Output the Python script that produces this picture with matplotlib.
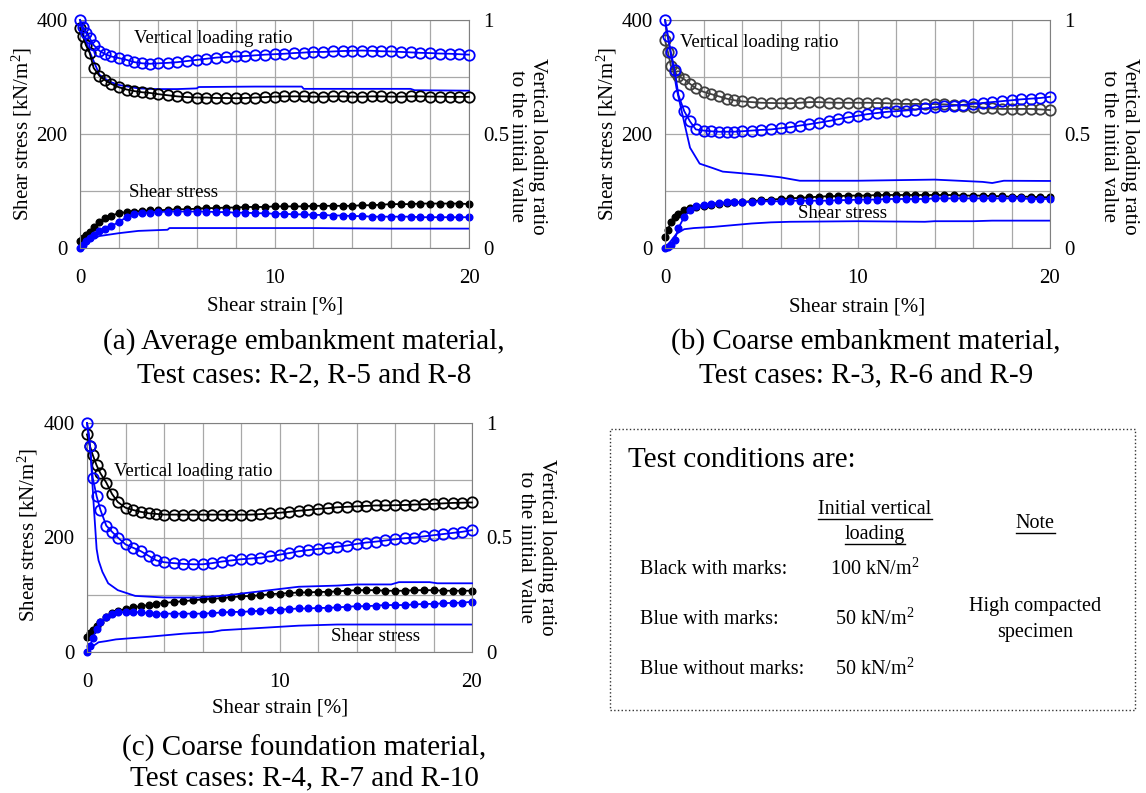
import matplotlib
matplotlib.use("Agg")
import matplotlib.pyplot as plt
from matplotlib.ticker import MultipleLocator
from matplotlib.patches import Rectangle
from matplotlib.lines import Line2D

plt.rcParams['font.family'] = ['Liberation Serif', 'DejaVu Serif']
plt.rcParams['mathtext.fontset'] = 'custom'
plt.rcParams['mathtext.rm'] = 'Liberation Serif'
plt.rcParams['mathtext.it'] = 'Liberation Serif:italic'

W, H = 1146, 793
BLUE = '#0000ff'

# shear strain [%] at the marked points (same for all panels)
strain_m = [0, 0.15, 0.3, 0.5, 0.7, 1.0, 1.3, 1.6, 2.0, 2.4,
            2.8, 3.2, 3.6, 4.0, 4.5, 5.0, 5.5, 6.0, 6.5, 7.0,
            7.5, 8.0, 8.5, 9.0, 9.5, 10.0, 10.5, 11.0, 11.5, 12.0,
            12.5, 13.0, 13.5, 14.0, 14.5, 15.0, 15.5, 16.0, 16.5, 17.0,
            17.5, 18.0, 18.5, 19.0, 19.5, 20.0]

# ---- (a) average embankment material ----
a_ratio_100 = [0.965, 0.93, 0.89, 0.855, 0.79, 0.755, 0.735, 0.72, 0.705, 0.695,
               0.688, 0.683, 0.68, 0.675, 0.67, 0.665, 0.662, 0.66, 0.66, 0.658,
               0.658, 0.657, 0.658, 0.66, 0.662, 0.664, 0.665, 0.665, 0.665, 0.664,
               0.664, 0.665, 0.665, 0.664, 0.664, 0.665, 0.665, 0.664, 0.664, 0.665,
               0.665, 0.664, 0.664, 0.663, 0.663, 0.663]
a_ratio_50m = [1.0, 0.97, 0.945, 0.92, 0.89, 0.865, 0.85, 0.84, 0.833, 0.825,
               0.815, 0.81, 0.808, 0.81, 0.812, 0.815, 0.82, 0.825, 0.83, 0.835,
               0.838, 0.84, 0.842, 0.845, 0.848, 0.85, 0.852, 0.855, 0.857, 0.86,
               0.86, 0.862, 0.864, 0.865, 0.866, 0.865, 0.863, 0.862, 0.86, 0.858,
               0.856, 0.855, 0.853, 0.852, 0.85, 0.848]
a_tau_100 = [12, 18, 22, 28, 36, 46, 53, 57, 61, 63,
             64, 65, 66, 66, 67, 68, 68, 69, 70, 70,
             71, 71, 72, 72, 72, 73, 73, 73, 73, 74,
             74, 74, 74, 74, 75, 75, 76, 77, 77, 77,
             78, 78, 78, 78, 78, 77]
a_tau_50m = [0, 5, 12, 18, 22, 30, 34, 38, 46, 54,
             59, 61, 62, 63, 64, 64, 64, 64, 64, 63,
             63, 62, 62, 61, 61, 60, 60, 59, 59, 58,
             58, 57, 57, 56, 56, 55, 55, 55, 55, 55,
             54, 54, 54, 54, 54, 54]
a_strain_l = [0, 0.2, 0.5, 1.0, 1.5, 2.0, 3.0, 4.0, 5.0, 6.0, 6.1, 9.0, 11.4, 11.5, 15.0, 17.0, 17.2, 20.0]
a_ratio_50 = [1.0, 0.93, 0.86, 0.76, 0.73, 0.715, 0.70, 0.697, 0.697, 0.70, 0.706, 0.708, 0.708, 0.698, 0.698, 0.698, 0.692, 0.69]
a_strain_lt = [0, 0.3, 0.7, 1.0, 2.0, 3.0, 4.5, 4.6, 8.0, 12.0, 16.0, 20.0]
a_tau_50 = [0, 10, 17, 21, 26, 30, 32, 35, 35, 35, 34, 34]

# ---- (b) coarse embankment material ----
b_ratio_100 = [0.912, 0.86, 0.80, 0.77, 0.755, 0.74, 0.72, 0.70, 0.685, 0.675,
               0.665, 0.655, 0.648, 0.643, 0.64, 0.637, 0.636, 0.635, 0.635, 0.637,
               0.64, 0.64, 0.638, 0.637, 0.637, 0.637, 0.637, 0.636, 0.635, 0.633,
               0.632, 0.632, 0.632, 0.631, 0.63, 0.628, 0.625, 0.62, 0.616, 0.612,
               0.61, 0.61, 0.61, 0.61, 0.608, 0.605]
b_ratio_50m = [1.0, 0.93, 0.86, 0.78, 0.67, 0.60, 0.555, 0.52, 0.515, 0.512,
               0.51, 0.51, 0.51, 0.512, 0.515, 0.518, 0.52, 0.525, 0.53, 0.537,
               0.543, 0.55, 0.557, 0.565, 0.573, 0.58, 0.587, 0.592, 0.597, 0.60,
               0.603, 0.607, 0.612, 0.617, 0.621, 0.624, 0.628, 0.632, 0.636, 0.64,
               0.644, 0.648, 0.652, 0.655, 0.658, 0.663]
b_tau_100 = [19, 32, 45, 54, 60, 67, 70, 72, 74, 76,
             78, 79, 80, 81, 82, 84, 85, 86, 87, 88,
             89, 90, 91, 91, 92, 92, 92, 93, 93, 93,
             93, 93, 93, 93, 93, 93, 92, 92, 92, 91,
             91, 90, 90, 90, 89, 89]
b_tau_50m = [0, 2, 6, 14, 35, 55, 66, 73, 76, 78,
             79, 80, 80, 81, 81, 82, 82, 82, 83, 83,
             83, 83, 83, 84, 84, 85, 85, 85, 86, 86,
             86, 86, 86, 87, 87, 87, 87, 87, 87, 87,
             87, 87, 87, 86, 86, 86]
b_strain_l = [0, 0.3, 0.6, 1.0, 1.3, 1.8, 2.5, 3.0, 3.7, 5.0, 6.0, 7.0, 10.0, 14.0, 16.5, 17.0, 17.6, 20.0]
b_ratio_50 = [1.0, 0.85, 0.70, 0.55, 0.44, 0.37, 0.35, 0.335, 0.33, 0.32, 0.31, 0.295, 0.295, 0.30, 0.29, 0.285, 0.295, 0.294]
b_strain_lt = [0, 0.3, 0.6, 1.0, 1.5, 2.5, 3.5, 4.5, 5.5, 6.5, 10.0, 13.5, 14.0, 16.0, 17.0, 20.0]
b_tau_50 = [0, 12, 25, 33, 35, 37, 40, 43, 45, 46, 47, 46, 47, 47, 48, 48]

# ---- (c) coarse foundation material ----
c_ratio_100 = [0.95, 0.90, 0.86, 0.815, 0.78, 0.74, 0.69, 0.655, 0.63, 0.62,
               0.612, 0.606, 0.603, 0.60, 0.60, 0.60, 0.60, 0.60, 0.60, 0.60,
               0.60, 0.60, 0.60, 0.602, 0.605, 0.608, 0.612, 0.617, 0.62, 0.625,
               0.628, 0.632, 0.634, 0.636, 0.638, 0.64, 0.64, 0.641, 0.642, 0.644,
               0.645, 0.647, 0.649, 0.651, 0.652, 0.653]
c_ratio_50m = [1.0, 0.90, 0.76, 0.68, 0.62, 0.552, 0.525, 0.50, 0.47, 0.455,
               0.44, 0.42, 0.40, 0.392, 0.388, 0.385, 0.383, 0.383, 0.388, 0.395,
               0.40, 0.405, 0.408, 0.412, 0.418, 0.425, 0.432, 0.44, 0.445, 0.45,
               0.455, 0.46, 0.465, 0.472, 0.478, 0.482, 0.487, 0.492, 0.497, 0.50,
               0.505, 0.51, 0.515, 0.52, 0.525, 0.532]
c_tau_100 = [27, 33, 38, 45, 52, 61, 68, 72, 75, 78,
             80, 82, 84, 86, 87, 89, 90, 92, 93, 94,
             96, 97, 98, 99, 101, 102, 103, 104, 104, 105,
             105, 106, 107, 108, 108, 108, 107, 107, 107, 108,
             108, 108, 107, 107, 107, 107]
c_tau_50m = [0, 10, 24, 40, 52, 62, 66, 69, 70, 70,
             69, 68, 67, 67, 67, 67, 67, 67, 68, 69,
             70, 70, 71, 72, 73, 74, 75, 76, 76, 77,
             77, 78, 79, 80, 80, 81, 82, 82, 82, 83,
             84, 84, 85, 86, 86, 88]
c_strain_l = [0, 0.1, 0.2, 0.35, 0.5, 0.6, 0.8, 1.1, 1.6, 2.5, 4.0, 5.8, 7.0, 8.5, 10.0, 11.0, 13.0, 14.0, 15.8, 16.2, 17.8, 18.2, 20.0]
c_ratio_50 = [1.0, 0.95, 0.85, 0.64, 0.45, 0.40, 0.35, 0.30, 0.27, 0.245, 0.238, 0.238, 0.245, 0.26, 0.275, 0.285, 0.29, 0.295, 0.295, 0.305, 0.305, 0.30, 0.30]
c_strain_lt = [0, 0.3, 0.6, 1.0, 1.5, 3.0, 4.0, 5.0, 6.5, 7.0, 8.5, 10.0, 11.0, 12.0, 13.0, 16.0, 20.0]
c_tau_50 = [0, 10, 17, 19, 22, 26, 29, 32, 35, 38, 41, 44, 46, 47, 48, 48, 48]


def rect(l, t, r, b):
    return [l / W, 1 - b / H, (r - l) / W, (b - t) / H]


def pt(x, y):
    return x / W, 1 - y / H


fig = plt.figure(figsize=(W / 100, H / 100), dpi=100)


def panel(box, r100, r100_col, r50m, sl, r50, t100, t50m, slt, t50, vtxt, stxt):
    ax = fig.add_axes(rect(*box))
    ax.set_xlim(0, 20)
    ax.set_ylim(0, 400)
    ax.xaxis.set_major_locator(MultipleLocator(10))
    ax.xaxis.set_minor_locator(MultipleLocator(2))
    ax.yaxis.set_major_locator(MultipleLocator(200))
    ax.yaxis.set_minor_locator(MultipleLocator(100))
    ax.grid(which='both', color='#a8a8a8', lw=0.9)
    ax.set_axisbelow(True)
    for s in ax.spines.values():
        s.set_color('#808080')
    ax.tick_params(which='both', length=0, labelsize=15)
    ax.tick_params(axis='x', pad=15)
    ax.tick_params(axis='y', pad=9)

    # shear stress curves
    ax.plot(slt, t50, color=BLUE, lw=1.3, clip_on=False)
    ax.plot(strain_m, t100, color='black', lw=1.3, marker='o', ms=4.8, clip_on=False)
    ax.plot(strain_m, t50m, color=BLUE, lw=1.3, marker='o', ms=4.8, clip_on=False)

    # vertical loading ratio curves
    ax2 = ax.twinx()
    ax2.set_ylim(0, 1)
    ax2.set_yticks([0, 0.5, 1])
    ax2.set_yticklabels(['0', '0.5', '1'])
    ax2.tick_params(length=0, labelsize=15, pad=10)
    for s in ax2.spines.values():
        s.set_visible(False)
    ax2.plot(sl, r50, color=BLUE, lw=1.3, clip_on=False)
    ax2.plot(strain_m, r100, color=r100_col, lw=1.3, marker='o', ms=7.5,
             mfc='none', mew=1.3, clip_on=False)
    ax2.plot(strain_m, r50m, color=BLUE, lw=1.3, marker='o', ms=7.5,
             mfc='none', mew=1.3, clip_on=False)

    ax2.text(vtxt[0], vtxt[1], 'Vertical loading ratio', fontsize=13.5, va='center')
    ax2.text(stxt[0], stxt[1], 'Shear stress', fontsize=13.5, va='center')
    return ax


panel((80, 20, 469, 248), a_ratio_100, 'black', a_ratio_50m, a_strain_l, a_ratio_50,
      a_tau_100, a_tau_50m, a_strain_lt, a_tau_50, (2.8, 0.92), (2.5, 0.245))
panel((665, 20, 1050, 248), b_ratio_100, '#404040', b_ratio_50m, b_strain_l, b_ratio_50,
      b_tau_100, b_tau_50m, b_strain_lt, b_tau_50, (0.8, 0.90), (6.9, 0.153))
panel((87, 423, 472, 652), c_ratio_100, 'black', c_ratio_50m, c_strain_l, c_ratio_50,
      c_tau_100, c_tau_50m, c_strain_lt, c_tau_50, (1.4, 0.79), (12.7, 0.068))

# axis titles
ylab = 'Shear stress [kN/m$^2$]'
rlab = 'Vertical loading ratio\nto the initial value'
for (x, y) in [(22, 134), (607, 134), (28, 535)]:
    fig.text(*pt(x, y), ylab, rotation=90, ha='center', va='center', fontsize=15)
for (x, y) in [(527, 146), (1119, 146), (536, 547)]:
    fig.text(*pt(x, y), rlab, rotation=270, ha='center', va='center', fontsize=15,
             multialignment='center', linespacing=1.15)
for (x, y) in [(275, 306), (857, 307), (280, 708)]:
    fig.text(*pt(x, y), 'Shear strain [%]', ha='center', va='center', fontsize=15)

captions = [((304, 342), '(a) Average embankment material,'),
            ((304, 375), 'Test cases: R-2, R-5 and R-8'),
            ((866, 342), '(b) Coarse embankment material,'),
            ((866, 375), 'Test cases: R-3, R-6 and R-9'),
            ((304, 748), '(c) Coarse foundation material,'),
            ((304, 778), 'Test cases: R-4, R-7 and R-10')]
for (x, y), s in captions:
    fig.text(*pt(x, y), s, ha='center', va='center', fontsize=21)

# test-condition box
l, t, r, b = 610, 429, 1135, 710
fig.add_artist(Rectangle(pt(l, b), (r - l) / W, (b - t) / H, transform=fig.transFigure,
                         fill=False, ls=':', lw=1.0, ec='#333333'))
fig.text(*pt(628, 460), 'Test conditions are:', ha='left', va='center', fontsize=21)
under = [fig.text(*pt(875, 510), 'Initial vertical', ha='center', va='center', fontsize=14.5),
         fig.text(*pt(875, 535), 'loading', ha='center', va='center', fontsize=14.5),
         fig.text(*pt(1035, 524), 'Note', ha='center', va='center', fontsize=14.5)]
rows = [('Black with marks:', '100 kN/m$^2$', 569),
        ('Blue with marks:', '50 kN/m$^2$', 619),
        ('Blue without marks:', '50 kN/m$^2$', 669)]
for name, load, y in rows:
    fig.text(*pt(640, y), name, ha='left', va='center', fontsize=14.5)
    fig.text(*pt(875, y), load, ha='center', va='center', fontsize=14.5)
fig.text(*pt(1035, 607), 'High compacted', ha='center', va='center', fontsize=14.5)
fig.text(*pt(1035, 632), 'specimen', ha='center', va='center', fontsize=14.5)

fig.canvas.draw()
rend = fig.canvas.get_renderer()
inv = fig.transFigure.inverted()
for txt in under:
    bb = txt.get_window_extent(rend)
    (x0, y0), (x1, _) = inv.transform([[bb.x0, bb.y0 + 1], [bb.x1, bb.y0 + 1]])
    fig.add_artist(Line2D([x0, x1], [y0, y0], transform=fig.transFigure, color='black', lw=1.0))

fig.savefig('out.png', dpi=100)
